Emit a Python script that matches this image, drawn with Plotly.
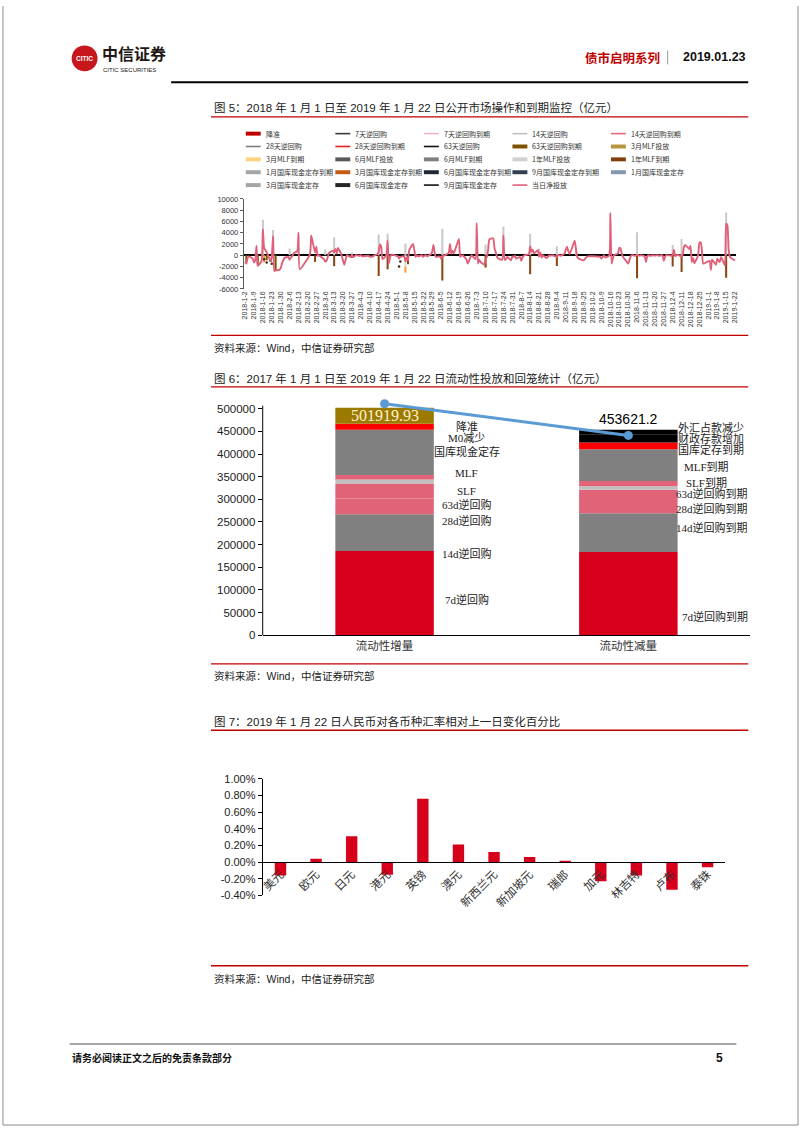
import plotly.graph_objects as go

W, H = 802, 1133
def px(x): return x / W
def py(y): return 1 - y / H

SANS = "Liberation Sans, Arial, Noto Sans CJK SC"
SERIF = "Liberation Serif, Times New Roman, Noto Sans CJK SC"
CJK = "Noto Sans CJK SC"

# ---------------- Figure 5 data (亿元) ----------------
net_dates = [
 '2018-01-02','2018-01-03','2018-01-04','2018-01-05','2018-01-08','2018-01-09','2018-01-10','2018-01-11',
 '2018-01-12','2018-01-15','2018-01-16','2018-01-17','2018-01-18','2018-01-19','2018-01-22','2018-01-23',
 '2018-01-24','2018-01-25','2018-01-26','2018-01-29','2018-01-30','2018-01-31','2018-02-01','2018-02-02',
 '2018-02-05','2018-02-06','2018-02-07','2018-02-08','2018-02-09','2018-02-12','2018-02-13','2018-02-14',
 '2018-02-22','2018-02-23','2018-02-26','2018-02-27','2018-02-28','2018-03-01','2018-03-02','2018-03-05',
 '2018-03-06','2018-03-07','2018-03-08','2018-03-09','2018-03-12','2018-03-13','2018-03-14','2018-03-15',
 '2018-03-16','2018-03-19','2018-03-20','2018-03-21','2018-03-22','2018-03-23','2018-03-26','2018-03-27',
 '2018-03-28','2018-03-29','2018-03-30','2018-04-02','2018-04-03','2018-04-04','2018-04-09','2018-04-10',
 '2018-04-11','2018-04-12','2018-04-13','2018-04-16','2018-04-17','2018-04-18','2018-04-19','2018-04-20',
 '2018-04-23','2018-04-24','2018-04-25','2018-04-26','2018-04-27','2018-05-02','2018-05-03','2018-05-04',
 '2018-05-07','2018-05-08','2018-05-09','2018-05-10','2018-05-11','2018-05-14','2018-05-15','2018-05-16',
 '2018-05-17','2018-05-18','2018-05-21','2018-05-22','2018-05-23','2018-05-24','2018-05-25','2018-05-28',
 '2018-05-29','2018-05-30','2018-05-31','2018-06-01','2018-06-04','2018-06-05','2018-06-06','2018-06-07',
 '2018-06-08','2018-06-11','2018-06-12','2018-06-13','2018-06-14','2018-06-15','2018-06-19','2018-06-20',
 '2018-06-21','2018-06-22','2018-06-25','2018-06-26','2018-06-27','2018-06-28','2018-06-29','2018-07-02',
 '2018-07-03','2018-07-04','2018-07-05','2018-07-06','2018-07-09','2018-07-10','2018-07-11','2018-07-12',
 '2018-07-13','2018-07-16','2018-07-17','2018-07-18','2018-07-19','2018-07-20','2018-07-23','2018-07-24',
 '2018-07-25','2018-07-26','2018-07-27','2018-07-30','2018-07-31','2018-08-01','2018-08-02','2018-08-03',
 '2018-08-06','2018-08-07','2018-08-08','2018-08-09','2018-08-10','2018-08-13','2018-08-14','2018-08-15',
 '2018-08-16','2018-08-17','2018-08-20','2018-08-21','2018-08-22','2018-08-23','2018-08-24','2018-08-27',
 '2018-08-28','2018-08-29','2018-08-30','2018-08-31','2018-09-03','2018-09-04','2018-09-05','2018-09-06',
 '2018-09-07','2018-09-10','2018-09-11','2018-09-12','2018-09-13','2018-09-14','2018-09-17','2018-09-18',
 '2018-09-19','2018-09-20','2018-09-21','2018-09-25','2018-09-26','2018-09-27','2018-09-28','2018-10-08',
 '2018-10-09','2018-10-10','2018-10-11','2018-10-12','2018-10-15','2018-10-16','2018-10-17','2018-10-18',
 '2018-10-19','2018-10-22','2018-10-23','2018-10-24','2018-10-25','2018-10-26','2018-10-29','2018-10-30',
 '2018-10-31','2018-11-01','2018-11-02','2018-11-05','2018-11-06','2018-11-07','2018-11-08','2018-11-09',
 '2018-11-12','2018-11-13','2018-11-14','2018-11-15','2018-11-16','2018-11-19','2018-11-20','2018-11-21',
 '2018-11-22','2018-11-23','2018-11-26','2018-11-27','2018-11-28','2018-11-29','2018-11-30','2018-12-03',
 '2018-12-04','2018-12-05','2018-12-06','2018-12-07','2018-12-10','2018-12-11','2018-12-12','2018-12-13',
 '2018-12-14','2018-12-17','2018-12-18','2018-12-19','2018-12-20','2018-12-21','2018-12-24','2018-12-25',
 '2018-12-26','2018-12-27','2018-12-28','2019-01-02','2019-01-03','2019-01-04','2019-01-07','2019-01-08',
 '2019-01-09','2019-01-10','2019-01-11','2019-01-14','2019-01-15','2019-01-16','2019-01-17','2019-01-18',
 '2019-01-21','2019-01-22']
net_values = [
 -1200,-1500,-500,-200,-600,-1300,-900,1700,
 -1900,-1000,4600,1300,900,500,-1000,-200,
 3400,-2800,-2700,-2600,-2300,-1500,-900,-500,
 -300,-800,-400,-200,300,700,4000,-2500,
 200,3500,500,1500,-100,0,-200,-700,
 -1100,-1000,-300,400,800,500,1100,300,
 1300,-100,-1000,-1700,-800,0,-300,0,
 -300,-200,0,-100,0,-200,-100,-300,
 -200,-300,-100,200,600,1900,1500,-700,
 0,2600,-1400,-300,100,-200,-600,-300,
 -200,-1100,-400,-900,900,2000,900,-300,
 0,-200,0,-300,-100,0,-200,200,
 600,1800,400,-300,-200,-600,-300,-100,
 0,400,2000,300,800,300,2900,-300,
 -100,0,-800,-1500,-1000,-400,0,-700,
 5700,-1500,-800,-1200,-1700,-600,-300,1000,
 2800,3000,1200,500,-300,-600,-800,3500,
 -800,-700,-300,-900,-200,-300,-100,-600,
 -300,-1000,-400,-100,0,200,1600,600,
 1000,300,900,-300,500,-400,0,-500,
 -300,0,-100,0,-200,-300,0,0,
 -100,300,1000,1500,700,200,2000,2600,
 1100,-300,-600,-900,-700,-400,-200,-300,
 -600,-300,0,-400,-100,7500,-1500,-600,
 0,300,1300,1200,300,-300,-1200,-1500,
 -900,-200,0,-100,0,0,-100,0,
 -200,-1200,-200,0,-100,0,-100,0,
 0,-100,0,-1000,-300,0,0,-100,
 0,1000,-200,0,-100,-300,200,1600,
 1800,1100,1700,-1200,-500,-1400,0,2200,
 2300,900,-1500,-1000,-2600,-800,-1700,-600,
 -1000,-1200,-300,-1800,5600,5300,900,-300,
 -800,-900]

mlf_1y_issue_dates = ['2018-01-16','2018-01-24','2018-02-06','2018-03-06','2018-03-13','2018-03-27',
                      '2018-04-17','2018-04-24','2018-05-08','2018-06-06','2018-07-10','2018-07-24',
                      '2018-08-14','2018-08-21','2018-09-04','2018-09-19','2018-11-06','2018-12-04',
                      '2018-12-11','2019-01-15']
mlf_1y_issue_values = [6300,4500,1200,1000,3200,500,3700,3800,2100,4700,1900,5100,
                       3800,1200,1600,1200,4100,1800,2900,7600]
mlf_1y_mature_dates = ['2018-02-26','2018-03-13','2018-03-27','2018-04-17','2018-04-24','2018-05-10',
                       '2018-06-06','2018-07-10','2018-08-14','2018-09-04','2018-11-06','2018-12-04',
                       '2018-12-11','2019-01-15']
mlf_1y_mature_values = [-1200,-1950,-500,-3700,-2500,-1600,-4500,-2200,-3400,-1900,-4100,-2000,-3000,-4000]
rr63_mature_dates = ['2018-01-03','2018-01-12','2018-01-19','2018-01-26']
rr63_mature_values = [-1200,-1800,-900,-2700]
tdep1_mature_dates = ['2018-05-08']
tdep1_mature_values = [-2000]
mlf_3m_mature_dates = ['2018-01-17','2018-05-08']
mlf_3m_mature_values = [-1300,-1100]
rr7_dot_dates = ['2018-01-17','2018-01-19','2018-01-22','2018-01-23','2018-05-03','2018-05-04']
rr7_dot_values = [-700,-1300,-1000,-1500,-2000,-1100]

fig5_ticks = [10000, 8000, 6000, 4000, 2000, 0, -2000, -4000, -6000]

legend5_names = ['降准','7天逆回购','7天逆回购到期','14天逆回购','14天逆回购到期',
                 '28天逆回购','28天逆回购到期','63天逆回购','63天逆回购到期','3月MLF投放',
                 '3月MLF到期','6月MLF投放','6月MLF到期','1年MLF投放','1年MLF到期',
                 '1月国库现金定存到期','3月国库现金定存到期','6月国库现金定存到期','9月国库现金定存到期','1月国库现金定存',
                 '3月国库现金定存','6月国库现金定存','9月国库现金定存','当日净投放']

# ---------------- Figure 6 data (亿元) ----------------
liq_categories = ['流动性增量', '流动性减量']
inc_names = ['7d逆回购','14d逆回购','28d逆回购','63d逆回购','SLF','MLF','国库现金定存','降准','M0减少']
inc_values = [186000, 81000, 35000, 33000, 9000, 9500, 100000, 13000, 35419.93]
dec_names = ['7d逆回购到期','14d逆回购到期','28d逆回购到期','SLF到期','63d逆回购到期','MLF到期',
             '国库定存到期','财政存款增加','外汇占款减少']
dec_values = [184000, 85000, 52000, 8000, 11500, 70000, 15000, 18000, 10121.2]
fig6_ticks = [0, 50000, 100000, 150000, 200000, 250000, 300000, 350000, 400000, 450000, 500000]

# ---------------- Figure 7 data (%) ----------------
fx_names = ['美元','欧元','日元','港元','英镑','澳元','新西兰元','新加坡元','瑞郎','加元','林吉特','卢布','泰铢']
fx_changes = [-0.16, 0.04, 0.31, -0.15, 0.76, 0.21, 0.12, 0.06, 0.01, -0.23, -0.16, -0.33, -0.06]
fig7_ticks = [1.0, 0.8, 0.6, 0.4, 0.2, 0.0, -0.2, -0.4]

# ---------------- styles ----------------
DAY = 86400000
legend5_styles = [('bar','#C00000'),('line','#3A3A3A'),('line','#F4B6C2'),('line','#BFBFBF'),('line','#E46C7A'),
                  ('line','#7F7F7F'),('line','#E02020'),('line','#111111'),('bar','#7F5200'),('bar','#B8963C'),
                  ('bar','#FFD27F'),('bar','#595959'),('bar','#808080'),('bar','#D0D0D0'),('bar','#843C0C'),
                  ('bar','#A6A6A6'),('bar','#C55A11'),('bar','#222A35'),('bar','#333F50'),('bar','#8497B0'),
                  ('bar','#A5A5A5'),('bar','#262626'),('line','#111111'),('line','#E0607A')]
inc_colors = ['#D9001B','#808080','#E06377','#E06377','#C0C0C0','#E06377','#808080','#FF0000','#9C7A00']
dec_colors = ['#D9001B','#808080','#E06377','#C0C0C0','#E06377','#808080','#FF0000','#000000','#000000']

fig = go.Figure()

# ---- Figure 5 traces ----
def bar5(dates, vals, color):
    fig.add_trace(go.Bar(x=dates, y=vals, width=1.6 * DAY, marker=dict(color=color, line=dict(width=0)),
                         xaxis='x', yaxis='y', showlegend=False, hoverinfo='skip'))

bar5(mlf_1y_issue_dates, mlf_1y_issue_values, '#C9C9C9')
bar5(mlf_1y_mature_dates, mlf_1y_mature_values, '#8B4513')
bar5(rr63_mature_dates, rr63_mature_values, '#7F5200')
bar5(tdep1_mature_dates, tdep1_mature_values, '#DADADA')
bar5(mlf_3m_mature_dates, mlf_3m_mature_values, '#F0A030')
fig.add_trace(go.Scatter(x=rr7_dot_dates, y=rr7_dot_values, mode='markers',
                         marker=dict(color='#3A2A1A', size=2.5), xaxis='x', yaxis='y', showlegend=False))
fig.add_trace(go.Scatter(x=net_dates, y=net_values, mode='lines',
                         line=dict(color='#E0607A', width=1.9, shape='spline', smoothing=0.5),
                         xaxis='x', yaxis='y', showlegend=False))

# ---- Figure 6 traces ----
for name, v, c in zip(inc_names, inc_values, inc_colors):
    fig.add_trace(go.Bar(x=[liq_categories[0]], y=[v], name=name, width=0.404,
                         marker=dict(color=c, line=dict(width=0)), xaxis='x2', yaxis='y2', showlegend=False))
for name, v, c in zip(dec_names, dec_values, dec_colors):
    fig.add_trace(go.Bar(x=[liq_categories[1]], y=[v], name=name, width=0.404,
                         marker=dict(color=c, line=dict(width=0)), xaxis='x2', yaxis='y2', showlegend=False))
total_inc = round(sum(inc_values), 2)
total_dec = round(sum(dec_values), 2)
fig.add_trace(go.Scatter(x=liq_categories, y=[total_inc, total_dec], mode='lines+markers',
                         line=dict(color='#5B9BD5', width=3), marker=dict(color='#5B9BD5', size=9),
                         xaxis='x2', yaxis='y3', cliponaxis=False, showlegend=False))

# ---- Figure 7 traces ----
fig.add_trace(go.Bar(x=fx_names, y=fx_changes, width=0.32, marker=dict(color='#D7001B', line=dict(width=0)),
                     xaxis='x3', yaxis='y4', showlegend=False))

# ---------------- layout ----------------
# figure 6: primary axis 0 at pixel 636, 500000 at pixel 407; domain extended a little so nothing clips
y2_bottom_px, y2_500k_px = 636, 407
y2_top_val = 525000
y2_top_px = y2_bottom_px - (y2_bottom_px - y2_500k_px) * y2_top_val / 500000
# secondary (line) axis: the two line markers sit at pixels 402 / 434 as in the reference
m1_px, m2_px = 402, 434
k = (total_inc - total_dec) / (m2_px - m1_px)
y3_lo = total_inc - (y2_bottom_px - m1_px) * k
y3_hi = y3_lo + (y2_bottom_px - y2_top_px) * k

y4_lo, y4_hi = -0.4, 1.0
y4_dom = [py(899), py(781)]
zero_pos = y4_dom[0] + (y4_dom[1] - y4_dom[0]) * (0 - y4_lo) / (y4_hi - y4_lo)

fig.update_layout(
    width=W, height=H, margin=dict(l=0, r=0, t=0, b=0),
    paper_bgcolor='white', plot_bgcolor='white', barmode='relative', showlegend=False,
    font=dict(family=SANS, color='#222222'),
    xaxis=dict(domain=[px(243), px(738)], type='date', range=['2018-01-01', '2019-01-23'], anchor='y',
               tickmode='linear', tick0='2018-01-02', dtick=7 * DAY, tickformat='%Y-%-m-%-d',
               tickangle=-90, tickfont=dict(size=7, color='#333333'), showline=False, showgrid=False,
               ticks='', zeroline=False),
    yaxis=dict(domain=[py(286), py(195)], range=[-6000, 10000], anchor='x',
               tickmode='array', tickvals=fig5_ticks, ticktext=[str(v) for v in fig5_ticks],
               tickfont=dict(size=7.5, color='#333333'), showline=True, linecolor='#595959', linewidth=1,
               ticks='outside', ticklen=3, tickcolor='#595959', showgrid=False,
               zeroline=True, zerolinecolor='#000000', zerolinewidth=1.6),
    xaxis2=dict(domain=[px(262), px(752)], type='category', anchor='y2', range=[-0.5, 1.5],
                showline=True, linecolor='#000000', linewidth=1, ticks='', showgrid=False,
                tickfont=dict(family=SERIF, size=11.5, color='#333333')),
    yaxis2=dict(domain=[py(y2_bottom_px), py(y2_top_px)], range=[0, y2_top_val], anchor='x2',
                tickmode='array', tickvals=fig6_ticks, ticktext=[str(v) for v in fig6_ticks],
                tickfont=dict(size=11.5, color='#222222'), showline=False,
                ticks='outside', ticklen=4, tickcolor='#000000', showgrid=False, zeroline=False),
    yaxis3=dict(overlaying='y2', anchor='x2', range=[y3_lo, y3_hi], visible=False),
    xaxis3=dict(domain=[px(262), px(727)], type='category', anchor='free', position=zero_pos,
                showline=True, linecolor='#000000', linewidth=1.2, ticks='', showgrid=False,
                tickangle=-45, tickfont=dict(family=SERIF, size=11.5, color='#333333')),
    yaxis4=dict(domain=y4_dom, range=[y4_lo, y4_hi], anchor='x3',
                tickmode='array', tickvals=fig7_ticks, ticktext=[f"{v:.2f}%" for v in fig7_ticks],
                tickfont=dict(size=11, color='#222222'), showline=True, linecolor='#000000', linewidth=1,
                ticks='outside', ticklen=4, tickcolor='#000000', showgrid=False, zeroline=False),
)

shapes = []
annots = []

def hline(x0, x1, y, color, w):
    shapes.append(dict(type='line', xref='paper', yref='paper', x0=px(x0), x1=px(x1), y0=py(y), y1=py(y),
                       line=dict(color=color, width=w)))

def vline(x, y0, y1, color, w):
    shapes.append(dict(type='line', xref='paper', yref='paper', x0=px(x), x1=px(x), y0=py(y0), y1=py(y1),
                       line=dict(color=color, width=w)))

def text(t, x, y, size, color='#222222', family=SANS, xanchor='left', bold=False):
    if bold:
        t = '<b>' + t + '</b>'
    annots.append(dict(text=t, x=px(x), y=py(y), xref='paper', yref='paper', showarrow=False,
                       xanchor=xanchor, yanchor='middle', font=dict(size=size, color=color, family=family)))

# page border
vline(1, 0, 1131, '#8C8C8C', 1)
vline(800, 0, 1131, '#8C8C8C', 1)
hline(1, 800, 1131, '#8C8C8C', 1)

# header
shapes.append(dict(type='circle', xref='paper', yref='paper', x0=px(70), x1=px(96), y0=py(66), y1=py(40),
                   fillcolor='#C8161D', line=dict(width=0)))
text('CITIC', 83, 53, 6.5, '#FFFFFF', SANS, 'center', bold=True)
text('中信证券', 98, 48, 16, '#231815', CJK, 'left', bold=True)
text('CITIC SECURITIES', 99, 64.5, 6, '#231815', SANS, 'left')
text('债市启明系列', 584, 52, 12.5, '#C00000', CJK, 'left', bold=True)
vline(669, 45, 59, '#9A9A9A', 1)
text('2019.01.23', 750, 52, 12.5, '#111111', SANS, 'right', bold=True)
hline(170, 750, 77, '#000000', 2)

# figure titles and source lines
text('图 5：2018 年 1 月 1 日至 2019 年 1 月 22 日公开市场操作和到期监控（亿元）', 211, 103, 11.5)
hline(210, 750, 112, '#C00000', 1.3)
hline(210, 750, 333, '#C00000', 1.3)
text('资料来源：Wind，中信证券研究部', 211, 346, 10.5)

text('图 6：2017 年 1 月 1 日至 2019 年 1 月 22 日流动性投放和回笼统计（亿元）', 211, 376, 11.5)
hline(210, 750, 385, '#C00000', 1.3)
hline(210, 750, 665, '#C00000', 1.3)
text('资料来源：Wind，中信证券研究部', 211, 677, 10.5)

text('图 7：2019 年 1 月 22 日人民币对各币种汇率相对上一日变化百分比', 211, 723, 11.5)
hline(210, 750, 732, '#C00000', 1.3)
hline(210, 750, 970, '#C00000', 1.3)
text('资料来源：Wind，中信证券研究部', 211, 983, 10.5)

# figure 6 y-axis line (stops at the 500000 tick)
vline(262, 636, 404, '#000000', 1)

# footer
hline(68, 738, 1049, '#A6A6A6', 2)
text('请务必阅读正文之后的免责条款部分', 68, 1063, 10, '#111111', CJK, 'left', bold=True)
text('5', 727, 1063, 12, '#111111', SANS, 'right', bold=True)

# figure 5 legend
leg_cols = [245, 335, 424, 513, 612]
leg_rows = [129, 142, 155, 168, 181]
for i, (name, (kind, color)) in enumerate(zip(legend5_names, legend5_styles)):
    r, c = divmod(i, 5)
    x0, y = leg_cols[c], leg_rows[r]
    if kind == 'bar':
        shapes.append(dict(type='rect', xref='paper', yref='paper', x0=px(x0), x1=px(x0 + 15),
                           y0=py(y + 2), y1=py(y - 2), fillcolor=color, line=dict(width=0)))
    else:
        hline(x0, x0 + 15, y, color, 1.6)
    text(name, x0 + 18, y, 7, '#333333', CJK, 'left')

# figure 6 labels
inc_label_pos = [(467, 600), (467, 553), (467, 520), (467, 504), (467, 490), (467, 472), (467, 450), (467, 425), (467, 437)]
dec_label_pos = [(717, 617), (714, 527), (714, 508), (708, 482), (714, 493), (708, 466), (713, 448), (713, 437), (713, 426)]
for name, (x, y) in zip(inc_names, inc_label_pos):
    text(name, x, y, 11, '#222222', SERIF, 'center')
for name, (x, y) in zip(dec_names, dec_label_pos):
    text(name, x, y, 11, '#222222', SERIF, 'center')

annots.append(dict(text=f"{total_inc:.2f}", x=liq_categories[0], y=total_inc, xref='x2', yref='y2',
                   showarrow=False, yanchor='top', yshift=3,
                   font=dict(family=SERIF, size=16, color='#FFF2CC')))
annots.append(dict(text=str(total_dec), x=liq_categories[1], y=total_dec, xref='x2', yref='y2',
                   showarrow=False, yanchor='bottom', yshift=1,
                   font=dict(family=SANS, size=14, color='#000000')))

fig.update_layout(shapes=shapes, annotations=annots)
fig.write_html("out.html")
